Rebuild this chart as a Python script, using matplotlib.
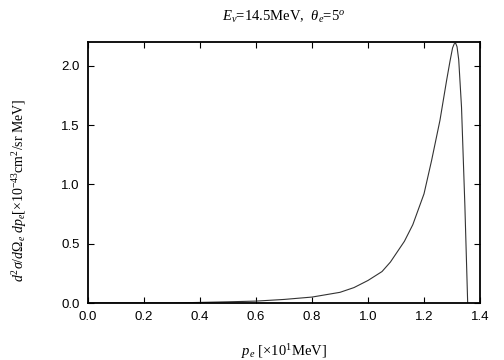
import matplotlib
matplotlib.use("Agg")
import matplotlib.pyplot as plt
from matplotlib.ticker import FormatStrFormatter, MultipleLocator

# electron momentum [x10 MeV] and cross section [x1e-43 cm^2/sr MeV]
p_e = [0.0, 0.3, 0.4, 0.5, 0.6, 0.7, 0.8, 0.9, 0.95, 1.0, 1.05, 1.08,
       1.13, 1.16, 1.2, 1.227, 1.257, 1.281, 1.293, 1.302, 1.308, 1.313,
       1.318, 1.324, 1.334, 1.346, 1.356]
xsec = [0.0, 0.0, 0.005, 0.01, 0.016, 0.03, 0.05, 0.09, 0.13, 0.19, 0.265,
        0.345, 0.52, 0.66, 0.92, 1.20, 1.54, 1.88, 2.04, 2.15, 2.185, 2.19,
        2.16, 2.05, 1.65, 0.82, 0.0]

plt.rcParams["mathtext.fontset"] = "custom"
plt.rcParams["mathtext.rm"] = "Liberation Serif"
plt.rcParams["mathtext.it"] = "Liberation Serif:italic"

fig = plt.figure(figsize=(5.04, 3.6), dpi=100)
ax = fig.add_axes([88 / 504, 1 - 303 / 360, 392 / 504, 261 / 360])

ax.plot(p_e, xsec, color="#333333", linewidth=0.8)
ax.set_xlim(0, 1.4)
ax.set_ylim(0, 2.2)
ax.xaxis.set_major_locator(MultipleLocator(0.2))
ax.yaxis.set_major_locator(MultipleLocator(0.5))
ax.xaxis.set_major_formatter(FormatStrFormatter("%.1f"))
ax.yaxis.set_major_formatter(FormatStrFormatter("%.1f"))
ax.tick_params(direction="in", top=True, right=True, length=4, width=0.8,
               labelsize=9.5, pad=6)
for lab in ax.get_xticklabels() + ax.get_yticklabels():
    lab.set_family("Liberation Sans")
for s in ax.spines.values():
    s.set_linewidth(1.3)

serif = "Liberation Serif"
fig.text(284 / 504, 1 - 17 / 360, r"$E_\nu$=14.5MeV,  $\theta_e$=5$^o$",
         ha="center", va="center", fontsize=10.5, family=serif)
fig.text(284 / 504, 1 - 352 / 360, r"$p_e$ [$\times$10$^1$MeV]",
         ha="center", va="center", fontsize=10.5, family=serif)
fig.text(20 / 504, 1 - 190 / 360,
         r"$d^2\sigma/d\Omega_e\ dp_e$[$\times$10$^{-43}$cm$^2$/sr MeV]",
         ha="center", va="center", rotation=90, fontsize=10, family=serif)

fig.savefig("out.png", dpi=100)
